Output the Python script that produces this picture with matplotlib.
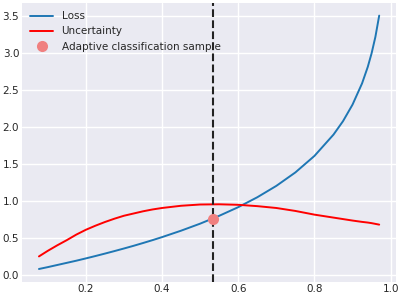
"""Loss vs uncertainty curve with the adaptive classification sample."""
import matplotlib
matplotlib.use("Agg")
import matplotlib.pyplot as plt

# Values.
proba = [0.077, 0.10, 0.125, 0.15, 0.175, 0.20, 0.225, 0.25, 0.275, 0.30,
         0.325, 0.35, 0.375, 0.40, 0.45, 0.50, 0.55, 0.60, 0.65, 0.70,
         0.75, 0.80, 0.85, 0.875, 0.90, 0.925, 0.94, 0.95, 0.96, 0.97]
loss = [0.080, 0.105, 0.134, 0.163, 0.192, 0.223, 0.255, 0.288, 0.322, 0.357,
        0.393, 0.431, 0.470, 0.511, 0.598, 0.693, 0.799, 0.916, 1.050, 1.204,
        1.386, 1.609, 1.897, 2.079, 2.303, 2.590, 2.813, 2.996, 3.219, 3.507]
incertitude = [0.25, 0.325, 0.40, 0.47, 0.545, 0.61, 0.665, 0.715, 0.76, 0.80,
               0.83, 0.86, 0.885, 0.905, 0.935, 0.952, 0.955, 0.948, 0.93, 0.905,
               0.865, 0.815, 0.775, 0.755, 0.735, 0.717, 0.708, 0.70, 0.69, 0.68]
echantillon_x = [0.533]
echantillon_y = [0.76]

plt.style.use("seaborn-v0_8")
plt.rcParams["font.family"] = ["DejaVu Sans"]

fig, ax = plt.subplots(figsize=(3.99, 2.94), dpi=100)
ax.plot(proba, loss, color="#1f77b4", linewidth=1.4, label="Loss")
ax.plot(proba, incertitude, color="red", linewidth=1.4, label="Uncertainty")
ax.axvline(echantillon_x[0], color="#222222", linestyle="--", linewidth=1.5)
ax.plot(echantillon_x, echantillon_y, "o", color="lightcoral", markersize=8,
        label="Adaptive classification sample", zorder=5)

ax.tick_params(labelsize=7.5, pad=2, colors="#262626")
ax.legend(loc="upper left", fontsize=7.5, frameon=False, numpoints=1,
          borderaxespad=0.4, handlelength=2.2)

fig.subplots_adjust(left=0.055, right=0.993, bottom=0.042, top=0.99)
fig.savefig("out.png", dpi=100)
plt.close(fig)
